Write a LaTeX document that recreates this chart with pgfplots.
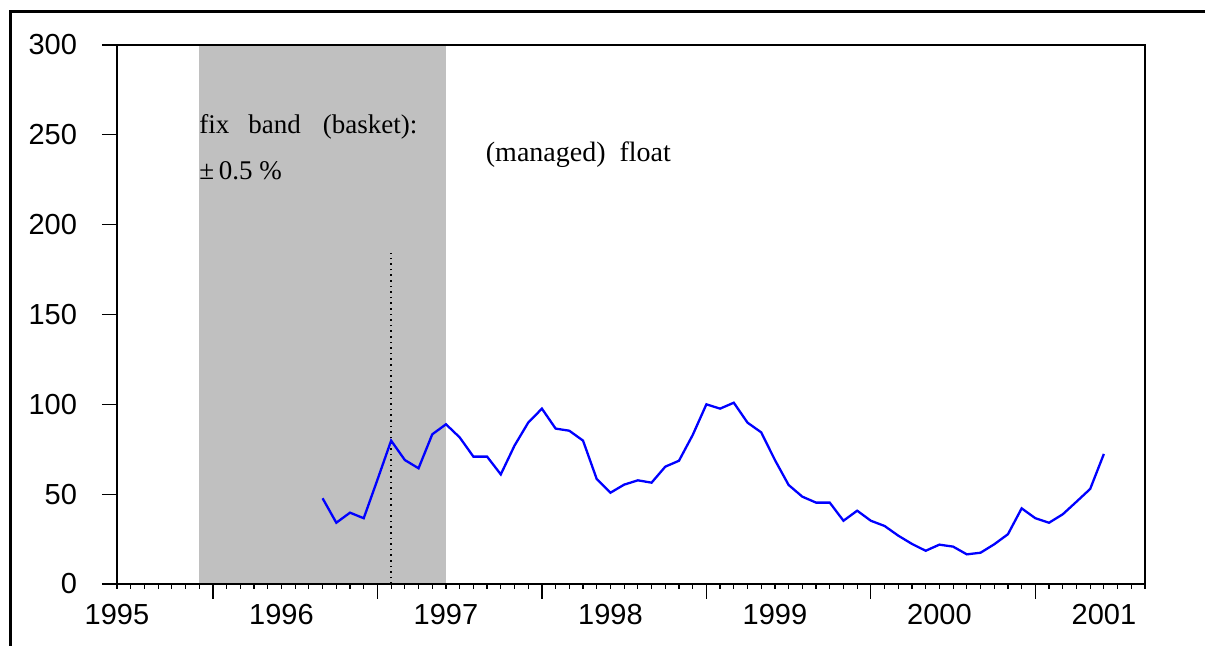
\documentclass[border=0pt]{standalone}
\usepackage{fontspec}
\setmainfont{Liberation Serif}
\newfontfamily\arialfont{Liberation Sans}
\usepackage{pgfplots}
\pgfplotsset{compat=1.18}
\usetikzlibrary{calc}
\definecolor{bandgray}{RGB}{192,192,192}

% monthly index: 0 = Jan 1995
\pgfplotstableread{
m   v
15  47.7
16  34.1
17  39.7
18  36.6
19  58.0
20  79.8
21  69.0
22  64.4
23  83.3
24  88.9
25  81.6
26  70.9
27  70.9
28  61.0
29  77.0
30  89.8
31  97.6
32  86.5
33  85.3
34  79.8
35  58.4
36  50.8
37  55.3
38  57.7
39  56.4
40  65.3
41  68.6
42  82.9
43  100.0
44  97.6
45  100.9
46  89.8
47  84.4
48  69.0
49  55.1
50  48.6
51  45.3
52  45.3
53  35.2
54  40.8
55  35.2
56  32.3
57  26.9
58  22.3
59  18.5
60  21.9
61  20.8
62  16.5
63  17.4
64  22.1
65  27.7
66  42.1
67  36.6
68  34.1
69  38.8
70  45.8
71  52.9
72  72.4
}\spread

\begin{document}
\begin{tikzpicture}
\begin{axis}[
    scale only axis,
    width=514pt, height=269.5pt,
    xmin=0, xmax=75, ymin=0, ymax=300,
    axis on top,
    axis line style={line width=1pt},
    tick align=outside,
    xtick pos=bottom, ytick pos=left,
    major tick length=7.5pt, minor tick length=2.5pt,
    every tick/.style={black, line width=0.6pt},
    ytick={0,50,...,300},
    xtick={7,19,31,43,55,67}, xticklabels={},
    minor xtick={0,...,75},
    extra x ticks={0,12,24,36,48,60,72},
    extra x tick labels={1995,1996,1997,1998,1999,2000,2001},
    extra x tick style={major tick length=0pt},
    ticklabel style={font=\arialfont\fontsize{14.5}{16}\selectfont},
    yticklabel style={xshift=-9pt},
    xticklabel style={yshift=-6.5pt},
    /pgf/number format/assume math mode=true,
]
% fixed band period
\addplot[draw=none, fill=bandgray] coordinates {(6,300) (24,300)} \closedcycle;
\addplot[black, dotted, line width=0.8pt] coordinates {(20,0) (20,184)};
\addplot[blue, line width=1.15pt] table[x=m, y=v] {\spread};

\node[anchor=base west, font=\fontsize{13.5}{16}\selectfont] at (axis cs:5.5,250.8)
    {fix\hspace{9.5pt}band\hspace{11pt}(basket):};
\node[anchor=base west, font=\fontsize{13.5}{16}\selectfont] at (axis cs:5.5,224.9)
    {±\,0.5 \%};
\node[anchor=base west, font=\fontsize{14}{16}\selectfont] at (axis cs:26.4,235.4)
    {(managed)\hspace{7pt}float};

\coordinate (SW) at (rel axis cs:0,0);
\coordinate (NE) at (rel axis cs:1,1);
\end{axis}
\pgfresetboundingbox
\useasboundingbox ($(SW)+(-58.5pt,-31pt)$) rectangle ($(NE)+(30pt,22.5pt)$);
\draw[line width=1.75pt] ($(SW)+(-53.35pt,-45pt)$) |- ($(NE)+(45pt,16.65pt)$);
\end{tikzpicture}
\end{document}
